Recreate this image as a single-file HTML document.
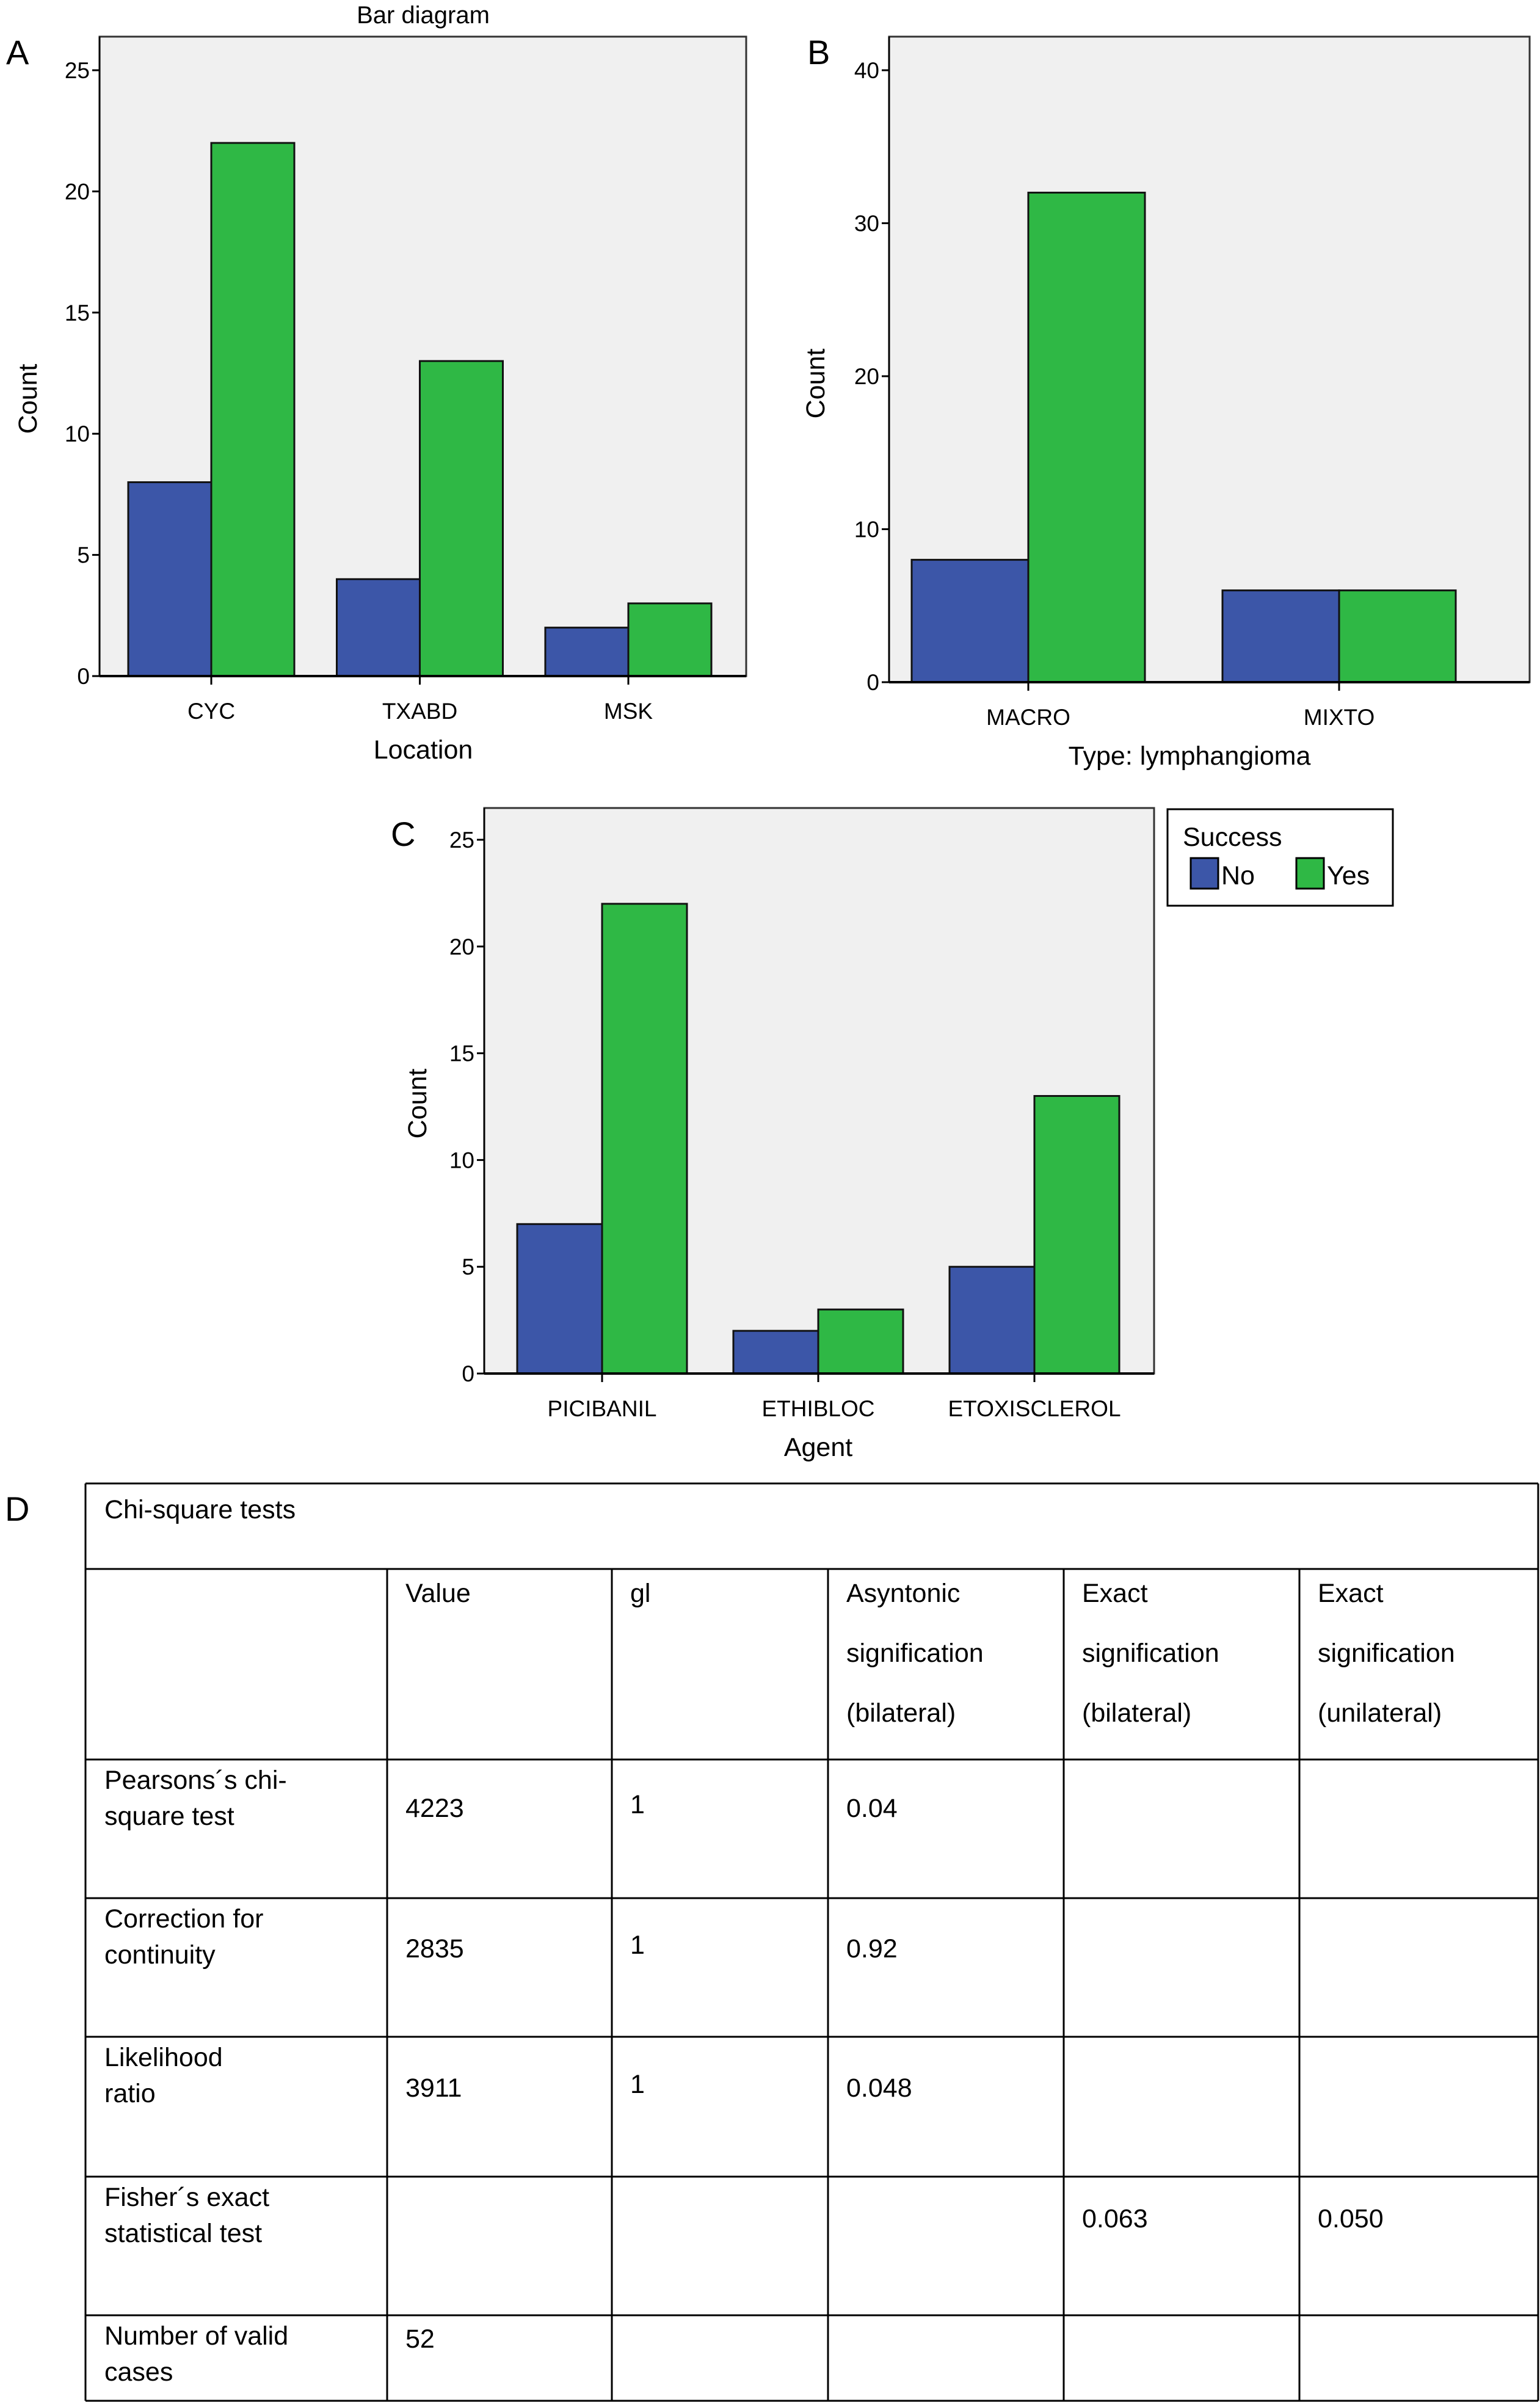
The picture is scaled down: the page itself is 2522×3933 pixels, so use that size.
<!DOCTYPE html>
<html><head><meta charset="utf-8"><style>
html,body{margin:0;padding:0;background:#fff}
svg{display:block}
text{font-family:"Liberation Sans",sans-serif;fill:#000}
</style></head><body>
<svg id="fig" width="2522" height="3933" viewBox="0 0 2522 3933" xmlns="http://www.w3.org/2000/svg">
<text x="693" y="38" font-size="40" text-anchor="middle">Bar diagram</text>
<text x="10" y="105" font-size="56">A</text>
<text x="1322" y="105" font-size="56">B</text>
<text x="640" y="1385" font-size="56">C</text>
<g>
<rect x="1912" y="1325" width="369" height="158" fill="#fff" stroke="#000" stroke-width="3"/>
<text x="1937" y="1385" font-size="43">Success</text>
<rect x="1950" y="1405" width="45" height="50" fill="#3c56a8" stroke="#000" stroke-width="3"/>
<text x="2000" y="1448" font-size="43">No</text>
<rect x="2123" y="1405" width="45" height="50" fill="#2fb845" stroke="#000" stroke-width="3"/>
<text x="2173" y="1448" font-size="43">Yes</text>
</g>
<g id="charts"></g>
<g id="table"></g>
<text x="8" y="2490" font-size="56">D</text>
</svg>
<script>
// Panel A data
const catsA = ["CYC","TXABD","MSK"];
const noA = [8,4,2];
const yesA = [22,13,3];
const ticksA = [0,5,10,15,20,25];
// Panel B data
const catsB = ["MACRO","MIXTO"];
const noB = [8,6];
const yesB = [32,6];
const ticksB = [0,10,20,30,40];
// Panel C data
const catsC = ["PICIBANIL","ETHIBLOC","ETOXISCLEROL"];
const noC = [7,2,5];
const yesC = [22,3,13];
const ticksC = [0,5,10,15,20,25];

const NS="http://www.w3.org/2000/svg";
const charts=document.getElementById('charts');
function mk(tag,attrs,parent){const e=document.createElementNS(NS,tag);for(const k in attrs)e.setAttribute(k,attrs[k]);(parent||charts).appendChild(e);return e;}

function chart(cfg){
  const g=mk('g',{});
  
  
  const y=v=>cfg.y0-(v-0)*(cfg.y0-cfg.yTop)/cfg.yMax;
  const bg=mk('rect',{x:cfg.l,y:cfg.t,width:cfg.r-cfg.l,height:cfg.y0-cfg.t,fill:'#f0f0f0',stroke:'#333','stroke-width':3},g);
  
  
  cfg.cats.forEach((c,i)=>{
    const cx=cfg.c0+cfg.step*i;
    const b1=mk('rect',{x:cx-cfg.bw,y:y(cfg.no[i]),width:cfg.bw,height:cfg.y0-y(cfg.no[i]),fill:'#3c56a8',stroke:'#111','stroke-width':3},g);
    
    
    const b2=mk('rect',{x:cx,y:y(cfg.yes[i]),width:cfg.bw,height:cfg.y0-y(cfg.yes[i]),fill:'#2fb845',stroke:'#111','stroke-width':3},g);
    
    
    mk('line',{x1:cx,x2:cx,y1:cfg.y0,y2:cfg.y0+14,stroke:'#000','stroke-width':3},g);
    const t=mk('text',{x:cx,y:cfg.y0+70,'font-size':37,'text-anchor':'middle'},g);
    t.textContent=c;
    
    
  });
  mk('line',{x1:cfg.l,x2:cfg.r,y1:cfg.y0,y2:cfg.y0,stroke:'#000','stroke-width':4},g);
  mk('line',{x1:cfg.l,x2:cfg.l,y1:cfg.t,y2:cfg.y0,stroke:'#000','stroke-width':3},g);
  cfg.ticks.forEach(v=>{
    mk('line',{x1:cfg.l-12,x2:cfg.l,y1:y(v),y2:y(v),stroke:'#000','stroke-width':3},g);
    const t=mk('text',{x:cfg.l-16,y:y(v)+13,'font-size':37,'text-anchor':'end'},g);
    t.textContent=v;
    
    
  });
  const yl=mk('text',{x:cfg.ylx,y:cfg.yly,'font-size':43,'text-anchor':'middle',transform:`rotate(-90 ${cfg.ylx} ${cfg.yly})`},g);
  yl.textContent='Count';
  
  
  const xl=mk('text',{x:cfg.xlx,y:cfg.y0+135,'font-size':43,'text-anchor':'middle'},g);
  xl.textContent=cfg.xlabel;
  
  
}
chart({name:'chart-location',cats:catsA,no:noA,yes:yesA,ticks:ticksA,yMax:25,l:163,r:1222,t:60,y0:1107,yTop:115,bw:136,c0:346,step:341.5,ylx:60,yly:653,xlx:693,xlabel:'Location'});
chart({name:'chart-type',cats:catsB,no:noB,yes:yesB,ticks:ticksB,yMax:40,l:1456,r:2505,t:60,y0:1117,yTop:115,bw:191,c0:1684,step:509,ylx:1350,yly:628,xlx:1948,xlabel:'Type: lymphangioma'});
chart({name:'chart-agent',cats:catsC,no:noC,yes:yesC,ticks:ticksC,yMax:25,l:793,r:1890,t:1323,y0:2249,yTop:1375,bw:139,c0:986,step:354,ylx:698,yly:1807,xlx:1340,xlabel:'Agent'});

// Table
const tbl=document.getElementById('table');
const colX=[140,634,1002,1356,1742,2128,2519];
const rowY=[2429,2569,2881,3108,3335,3564,3791,3931];
function tl(x1,y1,x2,y2){const e=document.createElementNS(NS,'line');e.setAttribute('x1',x1);e.setAttribute('y1',y1);e.setAttribute('x2',x2);e.setAttribute('y2',y2);e.setAttribute('stroke','#000');e.setAttribute('stroke-width',3);tbl.appendChild(e);}
rowY.forEach(y=>tl(colX[0],y,colX[6],y));
tl(colX[0],rowY[0],colX[0],rowY[7]);tl(colX[6],rowY[0],colX[6],rowY[7]);
colX.slice(1,6).forEach(x=>tl(x,rowY[1],x,rowY[7]));
function tt(x,y,s,name){const e=document.createElementNS(NS,'text');e.setAttribute('x',x);e.setAttribute('y',y);e.setAttribute('font-size',43);e.textContent=s;


tbl.appendChild(e);}
tt(171,2486,'Chi-square tests','table-title');
const heads=[["Value"],["gl"],["Asyntonic","signification","(bilateral)"],["Exact","signification","(bilateral)"],["Exact","signification","(unilateral)"]];
heads.forEach((h,i)=>h.forEach((s,j)=>tt(colX[i+1]+30,2623+j*98,s,'column-header')));
const rows=[
 [["Pearsons´s chi-","square test"],"4223","1","0.04","",""],
 [["Correction for","continuity"],"2835","1","0.92","",""],
 [["Likelihood","ratio"],"3911","1","0.048","",""],
 [["Fisher´s exact","statistical test"],"","","","0.063","0.050"],
 [["Number of valid","cases"],"52","","","",""]];
const valOff=[94,97,98,83,53];
rows.forEach((r,i)=>{
  r[0].forEach((s,j)=>tt(171,rowY[i+2]+48+j*59,s,'row-label'));
  for(let c=1;c<6;c++) if(r[c]) tt(colX[c]+30,rowY[i+2]+valOff[i]+(c==2&&i<3?-6:0),r[c],'table-cell');
});
</script>
</body></html>
